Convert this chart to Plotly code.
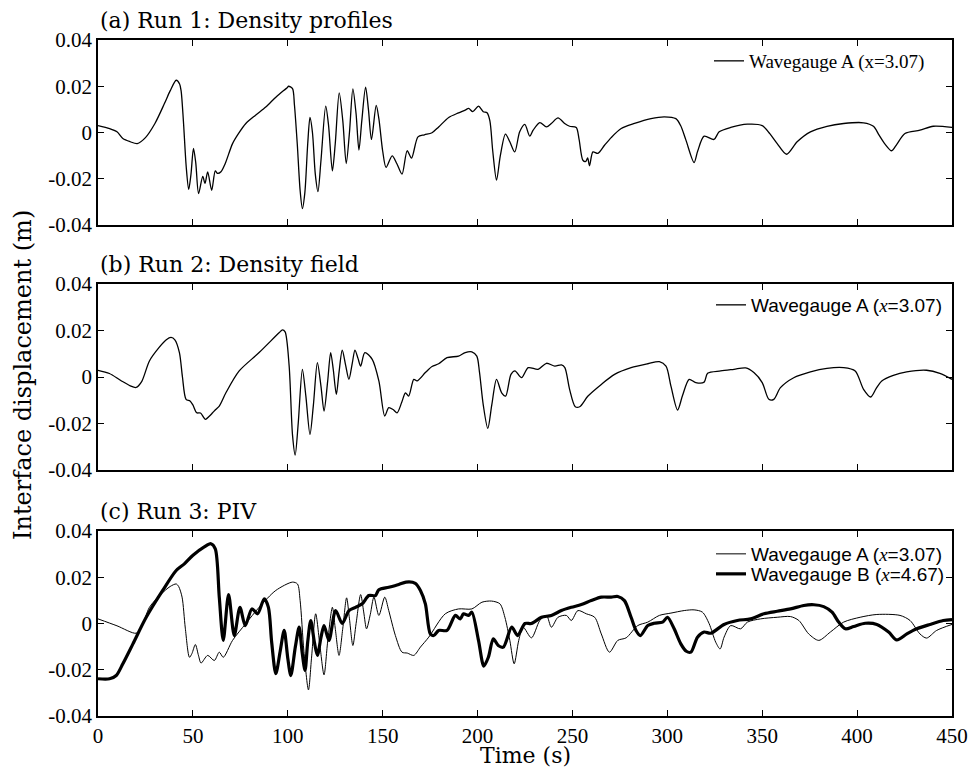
import plotly.graph_objects as go

# ---------------- data ----------------
# Panel (a) Run 1: Wavegauge A
t_a = [0, 6.1, 10, 13.1, 17, 20.7, 25, 30, 35, 38, 41.2, 43, 43.8, 45, 46.5, 47.8, 49, 50.3, 51.5, 53,
       55.2, 56.4, 57.8, 59.9, 61.8, 63, 64.8, 67, 70.9, 74, 77.9, 83, 88.4, 94, 99.8, 100.4, 102.5,
       103.5, 105, 106.5, 107.7, 109, 110.5, 111.7, 113, 114.5, 115.9, 117.5, 120, 121.5, 123.5, 125,
       127.1, 129, 130.8, 132.5, 134.3, 136, 137.5, 139, 141, 142.5, 144.1, 146.6, 148, 150, 151.8,
       155, 157.5, 160.2, 162.9, 165.2, 168.6, 172, 176, 179.5, 184.8, 190, 193.5, 195.3, 197.5,
       200.5, 203, 205, 206.5, 208, 210, 212, 214.7, 217, 219.6, 222.2, 224.9, 227.5, 229.3, 232.8,
       236.3, 239, 242.4, 245.9, 248.5, 252, 253.5, 255.5, 257, 258, 259, 260.8, 263.4, 266.9, 270.4,
       275.7, 282.7, 291.4, 298.4, 304.5, 307, 309.8, 314.1, 316, 319.4, 324.6, 327.3, 333.4, 342.2,
       350, 354, 357.9, 362.8, 368.4, 375.4, 384.1, 392.9, 403.4, 408.6, 411.5, 414.7, 418.2, 421,
       425.2, 433.1, 440.1, 450]
v_a = [0.003, 0.0017, 0.0003, -0.0026, -0.004, -0.0048, -0.0022, 0.0039, 0.0125, 0.018, 0.0226, 0.021,
       0.018, 0.005, -0.015, -0.0246, -0.018, -0.0069, -0.013, -0.0264,
       -0.019, -0.022, -0.017, -0.025, -0.0166, -0.0177, -0.017, -0.0135, -0.0048, -0.0005, 0.0039,
       0.0075, 0.011, 0.0155, 0.0195, 0.020, 0.019,
       0.012, -0.005, -0.025, -0.0329, -0.026, -0.005, 0.0065, 0.0, -0.018, -0.0256, -0.012, 0.0114,
       0.003, -0.0166, -0.005,
       0.0171, 0.005, -0.0134, 0.0, 0.0189, 0.008, -0.0076, 0.005, 0.0196, 0.01, -0.003, 0.0117,
       0.006, -0.008, -0.0151,
       -0.0101, -0.0135, -0.018, -0.0079, -0.0111, -0.0019, -0.001, -0.0001, 0.0024, 0.0065, 0.0085,
       0.0097, 0.0104, 0.009,
       0.0114, 0.009, 0.0085, 0.005, -0.008, -0.0206, -0.01, -0.0007, -0.004, -0.0084, 0.0003, 0.0035,
       -0.0016, 0.001, 0.0043,
       0.0024, 0.004, 0.0063, 0.0039, 0.0027, 0.0022, -0.003, -0.012, -0.0125, -0.011, -0.0144,
       -0.0084, -0.009, -0.0055, -0.0022,
       0.0017, 0.0039, 0.006, 0.0068, 0.006, 0.003, -0.0033, -0.013, -0.008, -0.0016, -0.003, 0.0003,
       0.0022, 0.0036,
       0.003, -0.0005, -0.0048, -0.0094, -0.004, 0.0003, 0.0027, 0.0039, 0.0042, 0.0027, -0.001,
       -0.005, -0.0079, -0.005,
       -0.0004, 0.001, 0.0027, 0.0022]

# Panel (b) Run 2: Wavegauge A
t_b = [0, 6, 12, 17, 20.1, 23, 27.1, 32, 36, 38.5, 40.5, 42.9, 44.5, 46.4, 48.5, 50, 52, 54, 56.6, 58.5,
       60.4, 62, 63.9, 67.4, 74.4, 84.9, 95.4, 97.2, 98.6, 100.7, 102.5, 103.9, 105.5, 107.7, 109.5,
       111.7, 113.5, 115.6, 117.5, 119.1, 121, 122.6, 124, 125.6, 127, 128.7, 130.5, 132.2, 134, 135.4,
       137, 138.4, 140.6, 144.5, 148, 151.1, 153.2, 155.5, 157.6, 160, 162, 163.7, 166.4, 168.1, 172.5,
       176, 179.5, 183.9, 190, 193.5, 197, 199.6, 201, 203, 205.4, 207.5, 210, 212.7, 214.8, 217.6,
       219.7, 223.2, 226.7, 231.9, 236.3, 240.7, 244.2, 246, 248.5, 251.5, 253.8, 258.2, 265.2, 272.2,
       280.9, 289.7, 295.8, 299.3, 301.9, 305.4, 308, 311.5, 315, 319.4, 321.2, 328.1, 335.1, 341.3,
       345.6, 350, 353.5, 356.1, 359.6, 366.6, 375.4, 384.1, 392.9, 399, 403.4, 407.2, 410, 413, 419.1,
       426.1, 436.6, 443.6, 450]
v_b = [0.0029, 0.0015, -0.0015, -0.0038, -0.0045, -0.002, 0.0069, 0.0125, 0.016, 0.017, 0.016, 0.0105,
       0.0, -0.0096, -0.0103, -0.012, -0.0154, -0.0155, -0.0182, -0.017,
       -0.0154, -0.014, -0.0125, -0.0068, 0.0026, 0.0105, 0.019, 0.0203, 0.0194, 0.005, -0.025, -0.0336,
       -0.02, 0.0033, -0.008,
       -0.0247, -0.012, 0.0062, -0.004, -0.0147, -0.002, 0.0105, 0.003, -0.0075, 0.002, 0.0115, 0.005,
       -0.001, 0.006, 0.0116,
       0.008, 0.0047, 0.0105, 0.0076, -0.0017, -0.0168, -0.0132, -0.014, -0.0154, -0.011, -0.0068,
       -0.0082, -0.001, -0.0017, 0.0019,
       0.0045, 0.0057, 0.0083, 0.009, 0.0105, 0.0108, 0.009, 0.0022, -0.012, -0.0221, -0.012, -0.001,
       -0.0068, -0.0082, 0.0011,
       0.0026, -0.0003, 0.004, 0.0033, 0.0059, 0.0047, 0.0052, 0.004, -0.0053, -0.0128, -0.0128,
       -0.0082, -0.0032, 0.0011,
       0.004, 0.0057, 0.0066, 0.0047, -0.0039, -0.0142, -0.008, -0.001, -0.0024, -0.0022, 0.0016,
       0.0026, 0.0033, 0.0039,
       0.0019, -0.0024, -0.0096, -0.0096, -0.0046, -0.0003, 0.0022, 0.0037, 0.004, 0.0026, -0.0053,
       -0.0086, -0.005, -0.0017, 0.0007,
       0.0022, 0.0029, 0.0016, -0.001]

# Panel (c) Run 3: Wavegauge A (thin)
t_c_a = [0, 10, 20.1, 23, 27.1, 33, 38, 41.2, 42.5, 44.3, 46, 48.2, 49.5, 51.3, 53, 54.3, 57.8, 61.3,
         63.9, 66, 70.9, 77.9, 84.9, 93.7, 102.5, 105.1, 106.5, 108.5, 110.9, 112.5, 114.7, 117, 119.1,
         121, 123.5, 125, 127, 129, 131, 132.5, 134.3, 136, 138.4, 140, 141.5, 143.5, 145.4, 148, 151.1,
         153.2, 156.7, 160.2, 163, 166.4, 169.9, 174.3, 183, 190, 197, 202.3, 207.4, 211.8, 214.4, 217,
         219.3, 221.7, 224, 228.4, 232.8, 236.3, 238.9, 242.4, 246.8, 249.4, 252.9, 257.3, 261.7, 265.2,
         269.5, 273.9, 278.3, 284.4, 289.7, 295.8, 301.9, 308.9, 314.1, 318.5, 322, 325.5, 327.8, 329.9,
         333.4, 338.6, 342.2, 349.1, 357.9, 364.9, 369.3, 374.5, 379.8, 385.9, 392.9, 401.6, 410.4,
         422.6, 427.9, 433.1, 436.6, 441.9, 450]
v_c_a = [0.002, -0.001, -0.0042, -0.0015, 0.007, 0.0125, 0.016, 0.0171, 0.016, 0.0114, -0.002, -0.0146,
         -0.013, -0.0091, -0.014, -0.0171, -0.0138, -0.016,
         -0.0124, -0.0146, -0.0073, 0.0, 0.007, 0.0143, 0.0179, 0.0171, 0.01, -0.012, -0.0287, -0.015,
         0.0042, -0.01, -0.0222,
         -0.008, 0.007, -0.002, -0.0138, -0.002, 0.0111, 0.002, -0.0095, 0.0, 0.0125, 0.005, -0.0023,
         0.004, 0.0114, 0.0035, 0.0114,
         0.0056, -0.0052, -0.0124, -0.0128, -0.0138, -0.0102, -0.0059, 0.0042, 0.0063, 0.0063, 0.0092,
         0.0097, 0.0085, 0.0027, -0.0073,
         -0.0174, -0.0073, -0.0016, -0.0062, 0.0013, 0.0035, -0.0016, 0.0027, 0.0035, 0.0013, 0.0056,
         0.0042, 0.0027, -0.0045,
         -0.0124, -0.0073, -0.0062, -0.0009, 0.0006, 0.0035, 0.0045, 0.0056, 0.0059, 0.0049, 0.0,
         -0.0081, -0.011, -0.0059,
         -0.0009, -0.0023, 0.0006, 0.002, 0.0027, 0.003, 0.0013, -0.0045, -0.0073, -0.0037, 0.0006,
         0.0027, 0.0039,
         0.0035, 0.0013, -0.0045, -0.0063, -0.003, -0.0004]

# Panel (c) Run 3: Wavegauge B (thick)
t_c_b = [0, 6.1, 9.6, 13.1, 18.4, 25.4, 34.1, 41.2, 45.5, 49.9, 56, 59.5, 61.8, 63.9, 66, 68.8, 71.8,
         74.8, 77.6, 81.1, 84.1, 87.6, 89.8, 91.5, 93.7, 96, 98.1, 100, 101.6, 104, 106, 107.5, 109.1,
         110.5, 112.1, 114, 115.6, 117.5, 119.1, 121.7, 125.2, 128.7, 132.2, 135.7, 139.2, 142.7, 146.2,
         148, 153.2, 158.5, 162.3, 167.2, 169.9, 172.5, 175.1, 176.9, 179.5, 183.9, 188.3, 190.9, 192.6,
         195.3, 197, 200.5, 203.3, 205.7, 208.3, 210.9, 213.6, 218, 221.1, 225, 228.4, 233.7, 238.9,
         244.2, 249.4, 254.7, 259.9, 265.2, 270.4, 273.9, 277.4, 280.9, 283.5, 285.8, 289.7, 293.1, 297.5,
         300.1, 303.6, 307.1, 310, 312.4, 315.9, 319.4, 322.9, 329.9, 336.9, 343.9, 350.9, 357.9, 364.9,
         371.9, 377.2, 382.4, 386.8, 390.3, 393.8, 398.2, 404.3, 410.4, 416.6, 420.9, 426.2, 431.4, 438.4,
         445.4, 450]
v_c_b = [-0.0239, -0.0239, -0.0225, -0.0174, -0.0088, 0.0027, 0.0143, 0.0229, 0.0258, 0.0294, 0.0331,
         0.0345, 0.0323, 0.0114, -0.0073, 0.0125, -0.0052,
         0.007, -0.0009, 0.0063, 0.0042, 0.0107, 0.007, -0.008, -0.0217, -0.012, -0.003, -0.015, -0.0225,
         -0.01, -0.0016, -0.012, -0.0203,
         -0.008, 0.0013, -0.008, -0.0138, -0.006, -0.0009, -0.0073, 0.0056, 0.0, 0.0056, 0.007, 0.0085,
         0.0121, 0.0121,
         0.0146, 0.0157, 0.0169, 0.0179, 0.0174, 0.0143, 0.0085, -0.0045, -0.0052, -0.003, -0.003, 0.0035,
         0.002, 0.0042,
         0.0035, 0.0049, -0.0073, -0.0184, -0.0146, -0.0066, -0.0095, -0.0102, -0.0016, -0.0052, 0.0,
         0.0, 0.0027, 0.0035,
         0.0056, 0.007, 0.0082, 0.0099, 0.0114, 0.0114, 0.0117, 0.0099, 0.0027, -0.003, -0.0052, -0.0009,
         0.0001, 0.0006,
         0.0027, -0.0023, -0.0088, -0.012, -0.0124, -0.0059, -0.0037, -0.0042, -0.0004, 0.0013, 0.002,
         0.0042, 0.0053, 0.0063,
         0.0078, 0.0081, 0.0073, 0.0049, 0.0006, -0.0023, -0.0013, 0.0001, -0.0004, -0.0037, -0.0071,
         -0.0045, -0.0023, -0.0004,
         0.0013, 0.0017]

x_ticks = [0, 50, 100, 150, 200, 250, 300, 350, 400, 450]
y_ticks = [0.04, 0.02, 0, -0.02, -0.04]
y_tick_text = ["0.04", "0.02", "0", "-0.02", "-0.04"]

panel_titles = ["(a) Run 1: Density profiles", "(b) Run 2: Density field", "(c) Run 3: PIV"]
name_a_serif = "Wavegauge A (x=3.07)"
ITAL_X = "<span style='font-family:Liberation Serif'><i>x</i></span>"
name_a = "Wavegauge A (" + ITAL_X + "=3.07)"
name_b = "Wavegauge B (" + ITAL_X + "=4.67)"

# ---------------- figure ----------------
SERIF = "Liberation Serif"
SANS = "Liberation Sans"
LABEL = "DejaVu Serif"

fig = go.Figure()
fig.add_trace(go.Scatter(x=t_a, y=v_a, mode="lines", name=name_a_serif, xaxis="x", yaxis="y",
                         line=dict(color="black", width=1.3, shape="spline", smoothing=0.8),
                         legend="legend"))
fig.add_trace(go.Scatter(x=t_b, y=v_b, mode="lines", name=name_a, xaxis="x2", yaxis="y2",
                         line=dict(color="black", width=1.3, shape="spline", smoothing=0.8),
                         legend="legend2"))
fig.add_trace(go.Scatter(x=t_c_a, y=v_c_a, mode="lines", name=name_a, xaxis="x3", yaxis="y3",
                         line=dict(color="black", width=1.0, shape="spline", smoothing=0.8),
                         legend="legend3"))
fig.add_trace(go.Scatter(x=t_c_b, y=v_c_b, mode="lines", name=name_b, xaxis="x3", yaxis="y3",
                         line=dict(color="black", width=3.2, shape="spline", smoothing=0.8),
                         legend="legend4"))

# page body has an 8px margin: figure occupies 8..968 x 8..768 of the window
OFF = 8
W, HT = 960, 760
RIGHT_EDGE = 952
L = 98 - OFF
R = OFF + W - RIGHT_EDGE
T = 40 - OFF
B = OFF + HT - 716
H = HT - T - B
PW = W - L - R

def py(pix):
    """window pixel row -> paper y"""
    return 1 - (pix - 40) / H

def px(pix):
    return (pix - 98) / PW

dom_a = [py(225), 1]
dom_b = [py(470), py(284)]
dom_c = [0, py(531)]

def xax(anchor, labels):
    return dict(domain=[0, 1], anchor=anchor, range=[0, 450], tickvals=x_ticks,
                showticklabels=labels, ticks="inside", ticklen=6, tickwidth=1.3, tickcolor="black",
                showline=True, linecolor="black", linewidth=1.8, mirror="ticks", showgrid=False,
                zeroline=False, automargin=False, ticklabeloverflow="allow",
                tickfont=dict(family=SERIF, size=21, color="black"))

def yax(anchor, dom):
    return dict(domain=dom, anchor=anchor, range=[-0.04, 0.04], tickvals=y_ticks,
                ticktext=y_tick_text, ticks="inside", ticklen=6, tickwidth=1.3, tickcolor="black",
                showline=True, linecolor="black", linewidth=1.8, mirror="ticks", showgrid=False,
                zeroline=False, automargin=False, ticklabeloverflow="allow",
                tickfont=dict(family=SERIF, size=21, color="black"))

leg_common = dict(bgcolor="rgba(0,0,0,0)", borderwidth=0, xanchor="left", yanchor="top",
                  tracegroupgap=0)

fig.update_layout(
    width=W, height=HT,
    margin=dict(l=L, r=R, t=T, b=B),
    paper_bgcolor="white", plot_bgcolor="white",
    xaxis=xax("y", False), yaxis=yax("x", dom_a),
    xaxis2=xax("y2", False), yaxis2=yax("x2", dom_b),
    xaxis3=xax("y3", True), yaxis3=yax("x3", dom_c),
    legend=dict(x=px(709), y=py(42), font=dict(family=SERIF, size=19, color="black"), **leg_common),
    legend2=dict(x=px(711), y=py(286), font=dict(family=SANS, size=19, color="black"), **leg_common),
    legend3=dict(x=px(711), y=py(535), font=dict(family=SANS, size=19, color="black"), **leg_common),
    legend4=dict(x=px(711), y=py(555), font=dict(family=SANS, size=19, color="black"), **leg_common),
    showlegend=True,
)

title_y = [py(20.4), py(264.4), py(511.4)]
for txt, yy in zip(panel_titles, title_y):
    fig.add_annotation(text=txt, xref="paper", yref="paper", x=0, y=yy, xanchor="left",
                       yanchor="middle", showarrow=False,
                       font=dict(family=LABEL, size=22, color="black"))

fig.add_annotation(text="Interface displacement (m)", xref="paper", yref="paper",
                   x=px(23), y=py(375), xanchor="center", yanchor="middle",
                   textangle=-90, showarrow=False, font=dict(family=LABEL, size=24, color="black"))
fig.add_annotation(text="Time (s)", xref="paper", yref="paper", x=0.5, y=py(755),
                   xanchor="center", yanchor="middle", showarrow=False,
                   font=dict(family=LABEL, size=22, color="black"))

fig.write_html("out.html")
